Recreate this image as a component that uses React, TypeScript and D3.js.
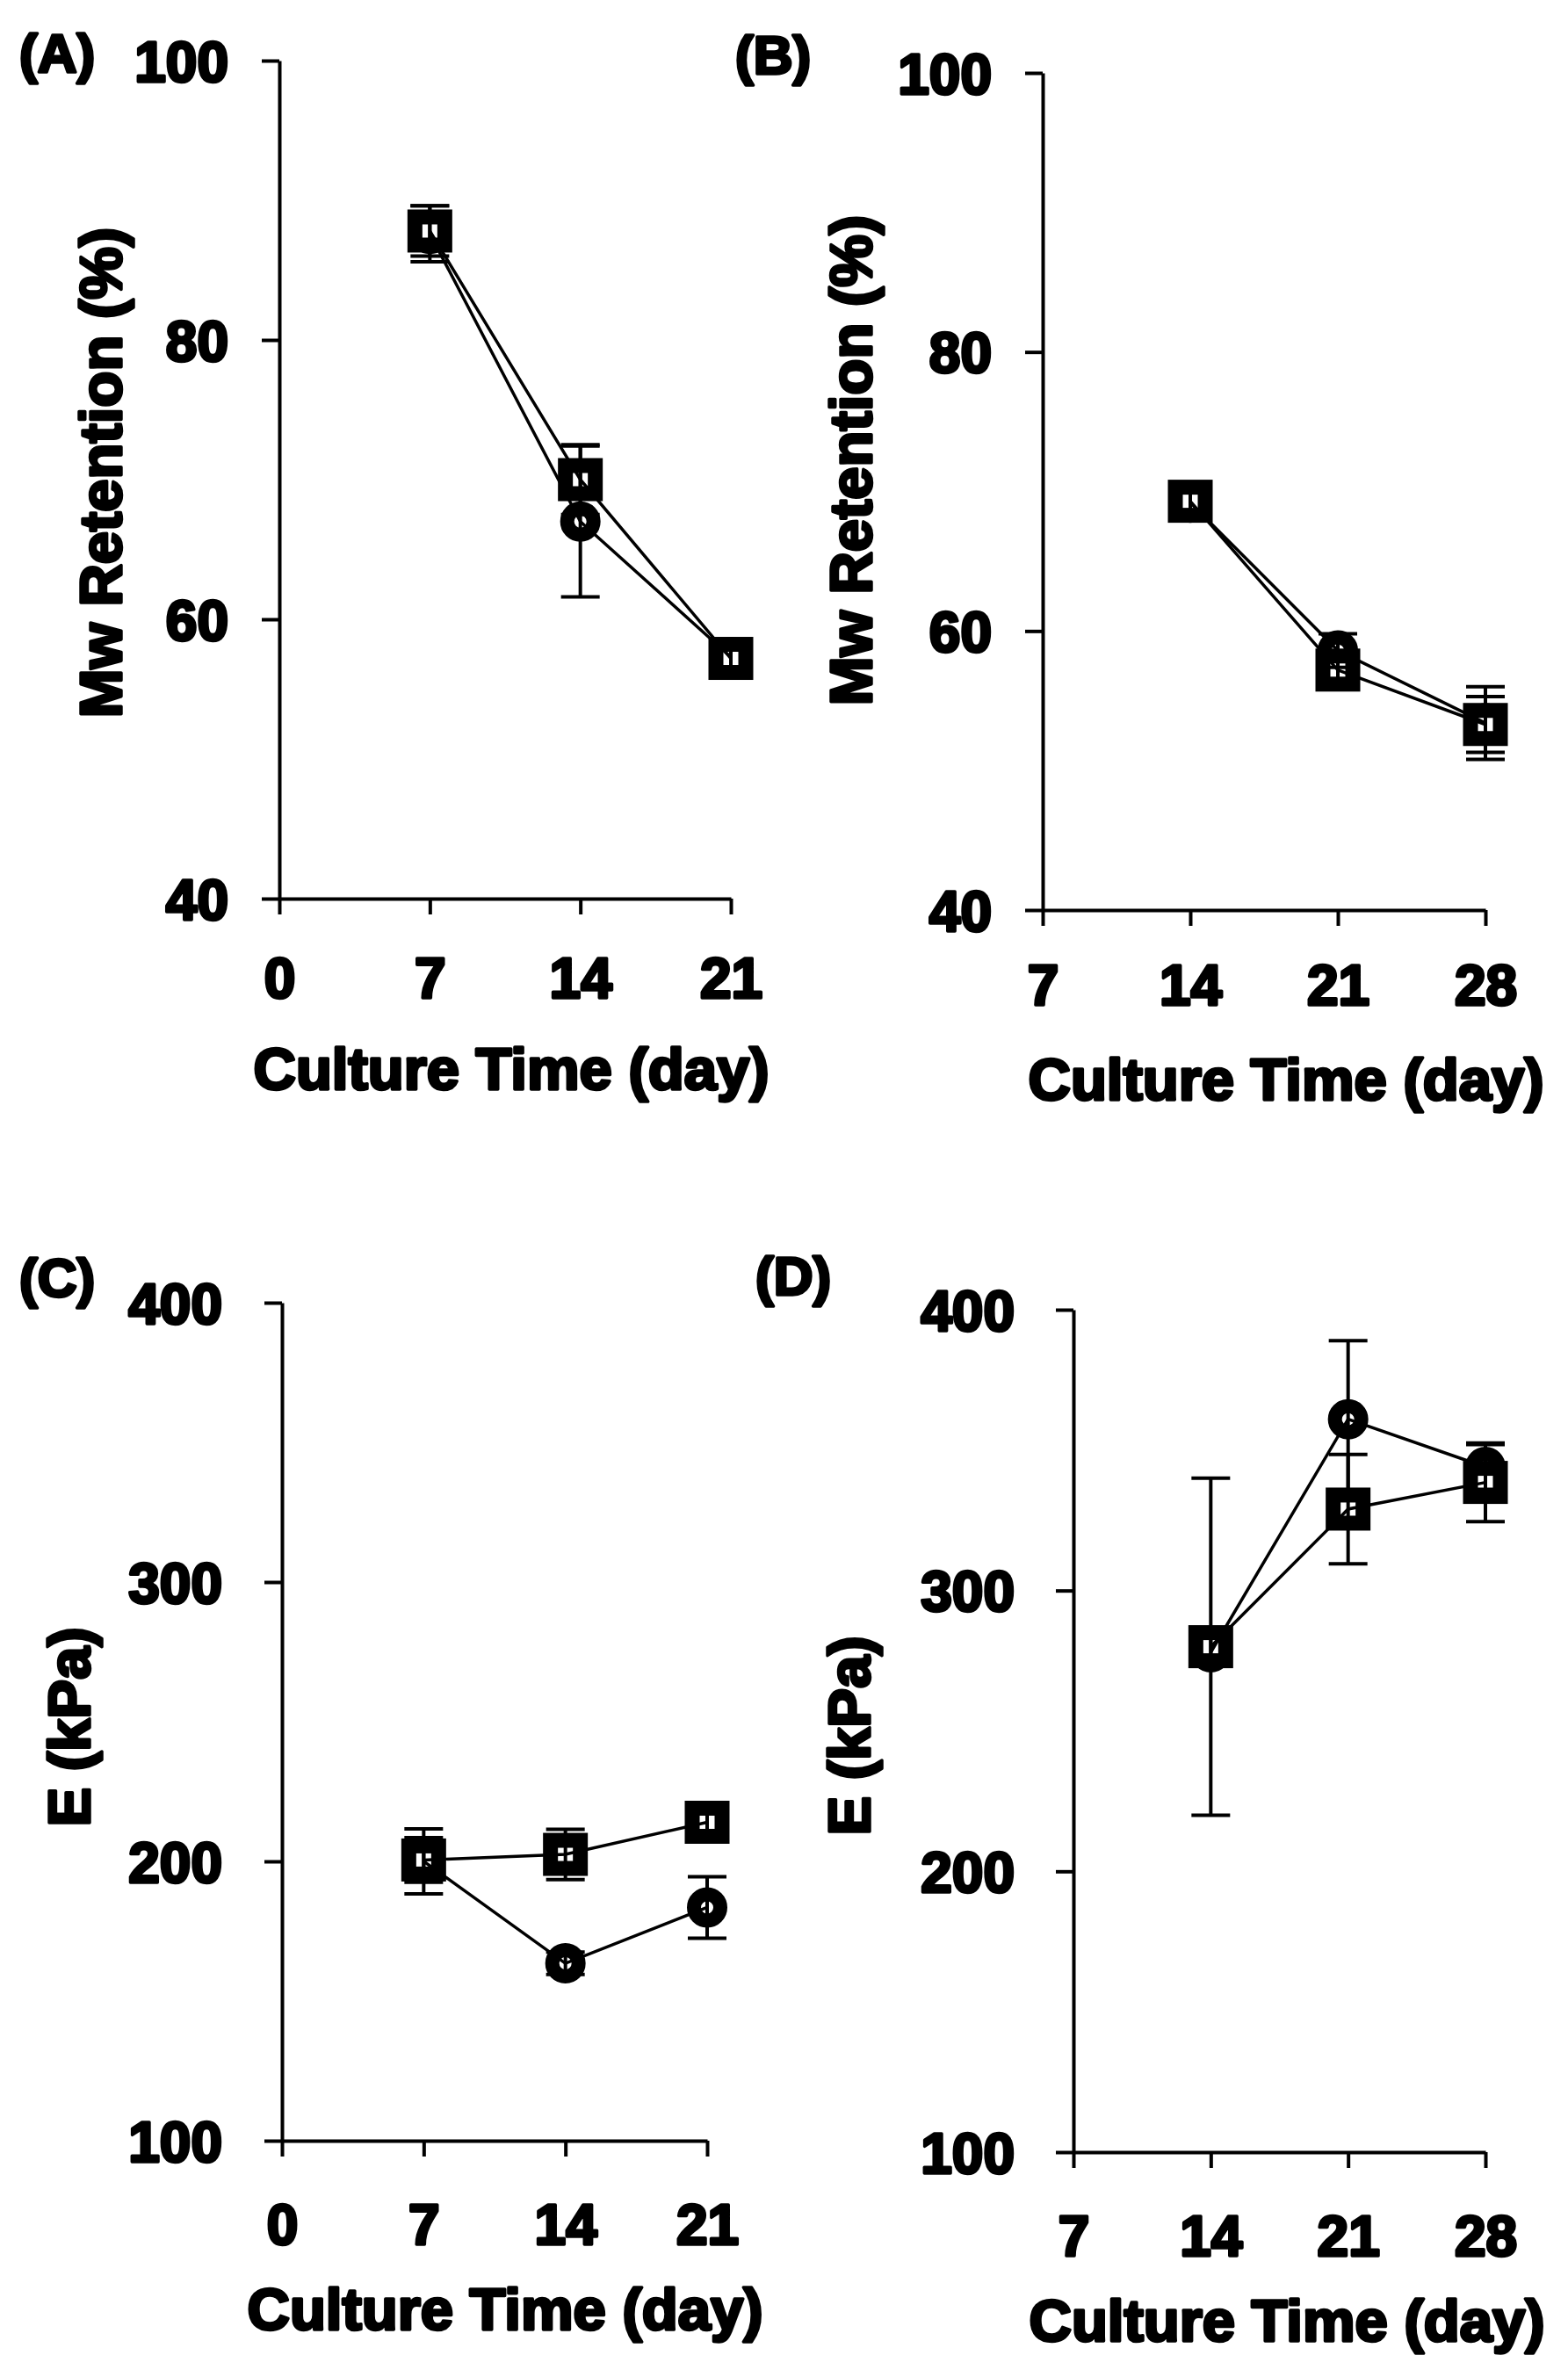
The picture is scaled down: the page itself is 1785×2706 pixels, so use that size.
import React, { useEffect, useRef } from 'react';
import * as d3 from 'd3';

// culture days
const daysEarly = [7, 14, 21];
const daysLate = [14, 21, 28];

// (A) Mw retention (%), weeks 1-3
const mwCircleA = [87.6, 67.0, 57.3];
const mwCircleErrA = [2.0, 5.4, 1.0];
const mwSquareA = [87.8, 70.0, 57.2];
const mwSquareErrA = [1.8, 2.5, 1.0];

// (B) Mw retention (%), weeks 2-4
const mwCircleB = [69.2, 58.6, 53.4];
const mwCircleErrB = [0.8, 1.2, 2.6];
const mwSquareB = [69.3, 57.2, 53.3];
const mwSquareErrB = [0.8, 1.0, 2.0];

// (C) E (kPa), weeks 1-3
const eCircleC = [200, 163.5, 183.5];
const eCircleErrC = [11.6, 4, 11];
const eSquareC = [200.5, 202.5, 214];
const eSquareErrC = [8, 9, 4];

// (D) E (kPa), weeks 2-4
const eCircleD = [278, 361, 344];
const eCircleErrD = [5, 28, 8];
const eSquareD = [280, 329, 338.5];
const eSquareErrD = [60, 19.5, 14];

const xTicksEarly = [0, 7, 14, 21];
const xTicksLate = [7, 14, 21, 28];
const mwTicks = [40, 60, 80, 100];
const eTicks = [100, 200, 300, 400];

const FONT = "'Liberation Sans', Arial, sans-serif";

interface Panel {
    label: string;
    labelX: number;
    labelY: number;
    days: number[];
    circle: number[];
    circleErr: number[];
    square: number[];
    squareErr: number[];
    xDomain: [number, number];
    xRange: [number, number];
    xTicks: number[];
    yDomain: [number, number];
    yRange: [number, number];
    yTicks: number[];
    yLabelEnd: number;
    xLabelDy: number;
    yTitle: string;
    yTitleX: number;
    yTitleY: number;
    xTitleX: number;
    xTitleY: number;
}

const panels: Panel[] = [
    {
        label: '(A)', labelX: 22, labelY: 82,
        days: daysEarly, circle: mwCircleA, circleErr: mwCircleErrA, square: mwSquareA, squareErr: mwSquareErrA,
        xDomain: [0, 21], xRange: [318, 832], xTicks: xTicksEarly,
        yDomain: [40, 100], yRange: [1023, 69], yTicks: mwTicks,
        yLabelEnd: 260, xLabelDy: 113,
        yTitle: 'Mw Retention (%)', yTitleX: 138, yTitleY: 538,
        xTitleX: 582, xTitleY: 1240
    },
    {
        label: '(B)', labelX: 837, labelY: 84,
        days: daysLate, circle: mwCircleB, circleErr: mwCircleErrB, square: mwSquareB, squareErr: mwSquareErrB,
        xDomain: [7, 28], xRange: [1187, 1691], xTicks: xTicksLate,
        yDomain: [40, 100], yRange: [1036, 83], yTicks: mwTicks,
        yLabelEnd: 1129, xLabelDy: 108,
        yTitle: 'Mw Retention (%)', yTitleX: 992, yTitleY: 524,
        xTitleX: 1464, xTitleY: 1252
    },
    {
        label: '(C)', labelX: 22, labelY: 1476,
        days: daysEarly, circle: eCircleC, circleErr: eCircleErrC, square: eSquareC, squareErr: eSquareErrC,
        xDomain: [0, 21], xRange: [321, 805], xTicks: xTicksEarly,
        yDomain: [100, 400], yRange: [2437, 1483], yTicks: eTicks,
        yLabelEnd: 253, xLabelDy: 118,
        yTitle: 'E (kPa)', yTitleX: 102, yTitleY: 1966,
        xTitleX: 575, xTitleY: 2652
    },
    {
        label: '(D)', labelX: 860, labelY: 1474,
        days: daysLate, circle: eCircleD, circleErr: eCircleErrD, square: eSquareD, squareErr: eSquareErrD,
        xDomain: [7, 28], xRange: [1222, 1691], xTicks: xTicksLate,
        yDomain: [100, 400], yRange: [2450, 1491], yTicks: eTicks,
        yLabelEnd: 1155, xLabelDy: 118,
        yTitle: 'E (kPa)', yTitleX: 990, yTitleY: 1976,
        xTitleX: 1465, xTitleY: 2665
    }
];

const boldText = (sel: d3.Selection<SVGTextElement, any, any, any>, size: number) =>
    sel.attr('font-family', FONT)
        .attr('font-weight', 'bold')
        .attr('font-size', size)
        .attr('fill', '#000')
        .attr('stroke', '#000')
        .attr('stroke-width', 3.5)
        .attr('stroke-linejoin', 'round');

export default function App() {
    const svgRef = useRef<SVGSVGElement>(null);

    useEffect(() => {
        if (!svgRef.current) return;
        const svg = d3.select(svgRef.current);
        svg.selectAll('*').remove();

        panels.forEach(p => {
            const g = svg.append('g');
            const x = d3.scaleLinear().domain(p.xDomain).range(p.xRange);
            const y = d3.scaleLinear().domain(p.yDomain).range(p.yRange);

            // axes
            const yAxis = g.append('g')
                .attr('transform', `translate(${p.xRange[0]},0)`)
                .call(d3.axisLeft(y).tickValues(p.yTicks).tickSize(20).tickSizeOuter(0).tickPadding(0));
            const xAxis = g.append('g')
                .attr('transform', `translate(0,${p.yRange[0]})`)
                .call(d3.axisBottom(x).tickValues(p.xTicks).tickSize(18).tickSizeOuter(0).tickPadding(0));

            [yAxis, xAxis].forEach(a => {
                a.select('.domain').attr('stroke', '#000').attr('stroke-width', 4);
                a.selectAll('.tick line').attr('stroke', '#000').attr('stroke-width', 4);
            });
            yAxis.selectAll<SVGTextElement, unknown>('.tick text')
                .attr('x', p.yLabelEnd - p.xRange[0])
                .attr('dy', '0.36em')
                .call(s => boldText(s, 64));
            xAxis.selectAll<SVGTextElement, unknown>('.tick text')
                .attr('y', p.xLabelDy)
                .attr('dy', null)
                .call(s => boldText(s, 64));

            // titles
            g.append('text')
                .attr('x', p.xTitleX).attr('y', p.xTitleY)
                .attr('text-anchor', 'middle')
                .text('Culture Time (day)')
                .call(s => boldText(s, 67));
            g.append('text')
                .attr('transform', `translate(${p.yTitleX},${p.yTitleY}) rotate(-90)`)
                .attr('text-anchor', 'middle')
                .text(p.yTitle)
                .call(s => boldText(s, 67));
            g.append('text')
                .attr('x', p.labelX).attr('y', p.labelY)
                .text(p.label)
                .call(s => boldText(s, 62));

            const series = [
                { vals: p.circle, errs: p.circleErr, shape: 'circle' },
                { vals: p.square, errs: p.squareErr, shape: 'square' }
            ];

            // markers
            series.forEach(s => {
                s.vals.forEach((v, i) => {
                    const cx = x(p.days[i]);
                    const cy = y(v);
                    if (s.shape === 'square') {
                        g.append('rect')
                            .attr('x', cx - 17).attr('y', cy - 16)
                            .attr('width', 34).attr('height', 32)
                            .attr('fill', '#fff')
                            .attr('stroke', '#000')
                            .attr('stroke-width', 17);
                    } else {
                        g.append('circle')
                            .attr('cx', cx).attr('cy', cy)
                            .attr('r', 15)
                            .attr('fill', '#fff')
                            .attr('stroke', '#000')
                            .attr('stroke-width', 16);
                    }
                });
            });

            // connecting lines and error bars
            const line = d3.line<number>()
                .x((_, i) => x(p.days[i]))
                .y(d => y(d));
            series.forEach(s => {
                g.append('path')
                    .datum(s.vals)
                    .attr('d', line)
                    .attr('fill', 'none')
                    .attr('stroke', '#000')
                    .attr('stroke-width', 3.5);

                s.vals.forEach((v, i) => {
                    const cx = x(p.days[i]);
                    const top = y(v + s.errs[i]);
                    const bot = y(v - s.errs[i]);
                    g.append('line')
                        .attr('x1', cx).attr('x2', cx).attr('y1', top).attr('y2', bot)
                        .attr('stroke', '#000').attr('stroke-width', 4);
                    [top, bot].forEach(yy => {
                        g.append('line')
                            .attr('x1', cx - 22).attr('x2', cx + 22).attr('y1', yy).attr('y2', yy)
                            .attr('stroke', '#000').attr('stroke-width', 4);
                    });
                });
            });
        });
    }, []);

    return (
        <svg
            ref={svgRef}
            width={1785}
            height={2706}
            style={{ position: 'absolute', left: 0, top: 0, background: '#fff' }}
        />
    );
}
